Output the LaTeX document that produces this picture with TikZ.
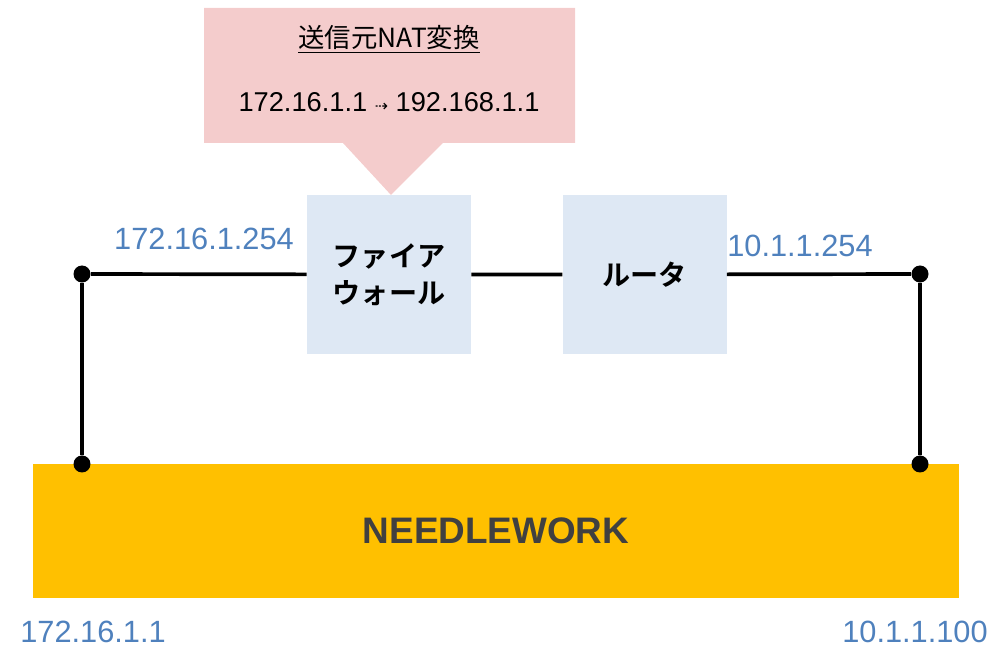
\documentclass[tikz,border=0pt]{standalone}
\usepackage{fontspec}
\setmainfont{Liberation Sans}
\newfontfamily\jp{Noto Sans CJK JP}[BoldFont={Noto Sans CJK JP Bold}]
\newfontfamily\symfont{DejaVu Sans}
\usetikzlibrary{positioning}
\definecolor{natpink}{HTML}{F4CCCC}
\definecolor{devblue}{HTML}{DEE8F4}
\definecolor{nwyellow}{HTML}{FFC000}
\definecolor{ipblue}{HTML}{4F81BD}
\definecolor{nwgray}{HTML}{404040}

\begin{document}
\begin{tikzpicture}[x=0.02cm, y=-0.02cm,
    every node/.append style={align=center},
    dev/.style={fill=devblue, minimum width=3.28cm, minimum height=3.18cm, inner sep=0pt,
      font=\jp\bfseries\fontsize{16}{21}\selectfont},
    ip/.style={text=ipblue, inner sep=0pt, font=\fontsize{17.5}{20}\selectfont},
    wire/.style={line width=2.1pt},
    dot/.style={circle, fill=black, minimum size=0.34cm, inner sep=0pt}]
   \useasboundingbox (0,0) rectangle (1002,648);

   % callout
   \fill[natpink] (204,8) -- (575,8) -- (575,143) -- (443,143) -- (391,195)
     -- (343,143) -- (204,143) -- cycle;
   \node[font=\jp\fontsize{15}{18}\selectfont] (nat) at (389,39) {\underline{送信元NAT変換}};
   \node[font=\fontsize{15.5}{18}\selectfont, below=1.26cm of nat.center, anchor=center] (natmap)
     {172.16.1.1 {\symfont\fontsize{9}{10}\selectfont ⇢} 192.168.1.1};

   % devices
   \node [dev] (FW) at (389,274.5) {ファイア\\ウォール};
   \node [dev, right=1.82cm of FW] (RT) {ルータ};
   \node [fill=nwyellow, minimum width=18.52cm, minimum height=2.7cm, inner sep=0pt,
     text=nwgray, font=\bfseries\fontsize{21}{24}\selectfont] (NW) at (496,531) {NEEDLEWORK};

   \node [dot] (P1) at (82,274) {};
   \node [dot] (P2) at (920,274) {};
   \node [dot] (N1) at (82,464) {};
   \node [dot] (N2) at (920,464) {};

   \draw[wire] (P1) -- (FW)
   (FW) -- (RT)
   (RT) -- (P2)
   (P1) -- (N1)
   (P2) -- (N2);

   \node [ip] (fwip) at (204,239) {172.16.1.254};
   \node [ip] (rtip) at (800,246) {10.1.1.254};
   \node [ip] (nwip1) at (93,632) {172.16.1.1};
   \node [ip] (nwip2) at (915,632) {10.1.1.100};
\end{tikzpicture}
\end{document}
